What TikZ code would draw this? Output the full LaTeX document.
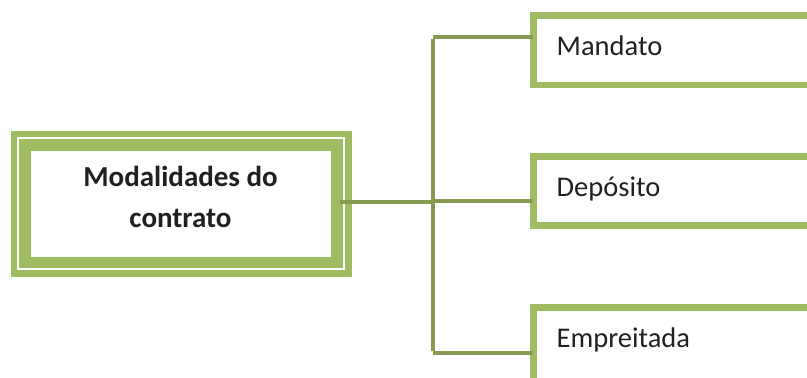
\documentclass[tikz,border=0pt]{standalone}
\usepackage{fontspec}
\setmainfont{Carlito}
\usetikzlibrary{backgrounds}
\definecolor{boxgreen}{RGB}{160,188,98}
\definecolor{linegreen}{RGB}{136,153,82}
\definecolor{inkgray}{RGB}{35,31,32}
\tikzset{
  conn/.style={draw=linegreen, line width=3.8pt},
  rootbox/.style={fill=white, inner sep=0pt, outer sep=0pt,
    minimum width=300pt, minimum height=106pt},
  roottext/.style={align=center, inner sep=0pt,
    text=inkgray, font=\bfseries\fontsize{29}{41}\selectfont},
  leafbox/.style={draw=boxgreen, line width=6.6pt, anchor=north west,
    outer sep=0pt, inner xsep=23.3pt, inner ysep=0pt,
    minimum width=340pt, text width=293.4pt, align=left,
    text height=10pt, text depth=0pt,
    text=inkgray, font=\fontsize{28.5}{34}\selectfont}
}
\begin{document}
\begin{tikzpicture}[x=1pt, y=-1pt]
  \useasboundingbox (0,0) rectangle (807,378);
  \clip (0,0) rectangle (807,378);

  % main box: white panel inside a thick green frame with a thin white rule
  \node[rootbox] (root) at (181,204) {};
  \node[roottext] (rootlabel) at (180.5,197) {Modalidades do\\contrato};
  \begin{pgfonlayer}{background}
    \fill[boxgreen] ([shift={(-20,-20)}]root.north west)
      rectangle ([shift={(21,20)}]root.south east);
    \draw[white, line width=1.6pt] ([shift={(-13.2,-13)}]root.north west)
      rectangle ([shift={(13,11.8)}]root.south east);
  \end{pgfonlayer}

  % branch boxes, open to the right (the last one also below)
  \node[leafbox, minimum height=69.7pt] (m) at (533.4,15.3) {Mandato};
  \node[leafbox, minimum height=68.7pt, text height=12pt] (d) at (533.4,156.5) {Depósito};
  \node[leafbox, minimum height=120pt, text depth=50.8pt] (e) at (533.4,307.4) {Empreitada};

  % connectors
  \coordinate (jtop) at (433,37);
  \coordinate (jmid) at (433,202);
  \coordinate (jbot) at (433,353);
  \draw[conn] ([shift={(9,-2)}]root.east) -- (jmid);
  \draw[conn] ([yshift=-1.8pt]jtop) -- ([yshift=1.8pt]jbot);
  \draw[conn] (jtop) -- (m.west |- jtop);
  \draw[conn] (jmid |- 0,201) -- (d.west |- 0,201);
  \draw[conn] (jbot) -- (e.west |- jbot);
\end{tikzpicture}
\end{document}
